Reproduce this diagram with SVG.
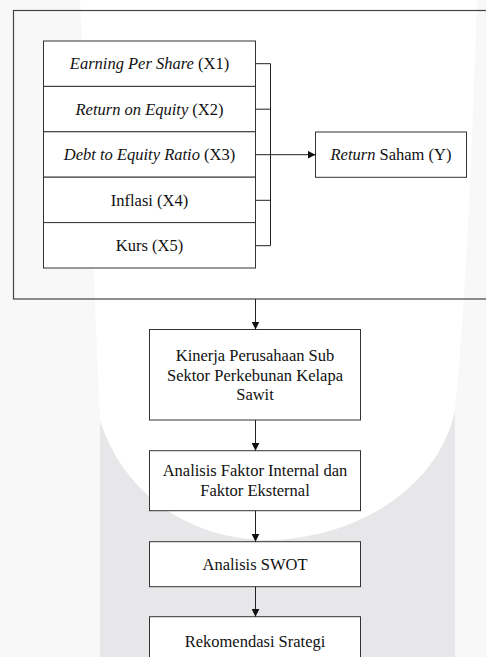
<svg xmlns="http://www.w3.org/2000/svg" width="486" height="657" viewBox="0 0 486 657">
<style>
.box{fill:#fff;stroke:#333;stroke-width:1}
.frame{fill:none;stroke:#444;stroke-width:1.2}
.t{font-family:"Liberation Serif","Times New Roman",serif;font-size:16.5px;fill:#111;text-anchor:middle}
.i{font-style:italic}
.c{fill:none;stroke:#222;stroke-width:1}
</style>
<defs>
<marker id="ah" markerWidth="8" markerHeight="8" refX="8" refY="4" orient="auto" markerUnits="userSpaceOnUse">
<path d="M0,0 L8,4 L0,8 Z" fill="#111"/>
</marker>
</defs>
<g id="background">
<rect x="0" y="0" width="486" height="657" fill="#f8f8f8"/>
<rect x="100" y="0" width="355" height="657" fill="#e7e7e9"/>
<path d="M80,0 L477,0 C472,150 466,300 455,410 C440,485 360,538 270,540 C180,540 120,485 100,420 C95,300 88,150 80,0 Z" fill="#fff"/>
</g>
<g id="frame">
<rect class="frame" x="13.5" y="10.5" width="480" height="288.5"/>
</g>
<g id="x1">
<rect class="box" x="43.5" y="41" width="212" height="45.4"/>
<text class="t" x="149.5" y="69.2"><tspan class="i">Earning Per Share</tspan> (X1)</text>
</g>
<g id="x2">
<rect class="box" x="43.5" y="86.4" width="212" height="45.4"/>
<text class="t" x="149.5" y="114.6"><tspan class="i">Return on Equity</tspan> (X2)</text>
</g>
<g id="x3">
<rect class="box" x="43.5" y="131.8" width="212" height="45.4"/>
<text class="t" x="149.5" y="160.1"><tspan class="i">Debt to Equity Ratio</tspan> (X3)</text>
</g>
<g id="x4">
<rect class="box" x="43.5" y="177.2" width="212" height="45.4"/>
<text class="t" x="149.5" y="205.5">Inflasi (X4)</text>
</g>
<g id="x5">
<rect class="box" x="43.5" y="222.6" width="212" height="45.4"/>
<text class="t" x="149.5" y="250.9">Kurs (X5)</text>
</g>
<g id="y">
<rect class="box" x="315.5" y="132" width="151" height="45.3"/>
<text class="t" x="391" y="160.2"><tspan class="i">Return</tspan> Saham (Y)</text>
</g>
<g id="kinerja">
<rect class="box" x="149.5" y="329.5" width="211" height="90.5"/>
<text class="t" x="255" y="360.7">Kinerja Perusahaan Sub</text>
<text class="t" x="255" y="380.5">Sektor Perkebunan Kelapa</text>
<text class="t" x="255" y="400.3">Sawit</text>
</g>
<g id="faktor">
<rect class="box" x="149.5" y="450.7" width="211" height="60"/>
<text class="t" x="255" y="476">Analisis Faktor Internal dan</text>
<text class="t" x="255" y="495.8">Faktor Eksternal</text>
</g>
<g id="swot">
<rect class="box" x="149.5" y="541.7" width="211" height="45"/>
<text class="t" x="255" y="569.5">Analisis SWOT</text>
</g>
<g id="rekomendasi">
<rect class="box" x="149.5" y="616.7" width="211" height="50"/>
<text class="t" x="255" y="646.8">Rekomendasi Srategi</text>
</g>
<g id="connectors">
<path class="c" d="M255.5,63.7 H270.5 V245.7 H255.5 M255.5,109.2 H270.5 M255.5,200.3 H270.5"/>
<line class="c" x1="255.5" y1="154.7" x2="315.5" y2="154.7" marker-end="url(#ah)"/>
<line class="c" x1="255.5" y1="299" x2="255.5" y2="329.5" marker-end="url(#ah)"/>
<line class="c" x1="255.5" y1="420" x2="255.5" y2="450.7" marker-end="url(#ah)"/>
<line class="c" x1="255.5" y1="510.7" x2="255.5" y2="541.7" marker-end="url(#ah)"/>
<line class="c" x1="255.5" y1="586.7" x2="255.5" y2="616.7" marker-end="url(#ah)"/>
</g>
</svg>
